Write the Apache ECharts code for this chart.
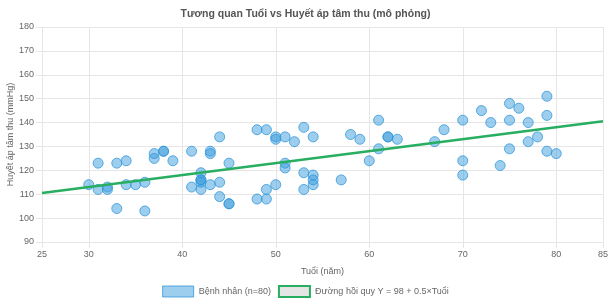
<!DOCTYPE html>
<html>
<head>
<meta charset="utf-8">
<title>Tương quan Tuổi vs Huyết áp tâm thu</title>
<script src="https://cdn.jsdelivr.net/npm/echarts@6/dist/echarts.min.js"></script>
<style>
    html, body { margin: 0; padding: 0; background: #fff; }
    #scatterChart { width: 611px; height: 305px; }
</style>
</head>
<body>
<div id="scatterChart"></div>
<script>
// Tuổi của bệnh nhân (năm)
var ages = [
    30, 31, 31, 32, 32, 33, 33, 34, 34, 35,
    36, 36, 37, 37, 38, 38, 39, 41, 41, 42,
    42, 42, 42, 42, 43, 43, 43, 44, 44, 44,
    45, 45, 45, 48, 48, 49, 49, 49, 50, 50,
    50, 51, 51, 51, 52, 53, 53, 53, 54, 54,
    54, 54, 57, 58, 59, 60, 61, 61, 62, 62,
    63, 67, 68, 70, 70, 70, 72, 73, 74, 75,
    75, 75, 76, 77, 77, 78, 79, 79, 79, 80
];
// Huyết áp tâm thu (mmHg)
var pressures = [
    114, 123, 112, 113, 112, 123, 104, 124, 114, 114,
    115, 103, 127, 125, 128, 128, 124, 128, 113, 119,
    116, 116, 115, 112, 128, 127, 114, 134, 115, 109,
    123, 106, 106, 137, 108, 137, 108, 112, 134, 133,
    114, 134, 123, 121, 132, 138, 119, 112, 134, 118,
    116, 114, 116, 135, 133, 124, 141, 129, 134, 134,
    133, 132, 137, 141, 124, 118, 145, 140, 122, 148,
    141, 129, 146, 140, 132, 134, 151, 143, 128, 127
];
// Đường hồi quy Y = 98 + 0.5×Tuổi (hai đầu mút)
var lineAges = [25, 85];
var linePressures = [110.5, 140.5];

// Nhãn trục X (kiểu Chart.js: có cả min và max)
var xTicks = [25, 30, 40, 50, 60, 70, 80, 85];

var scatterName = 'Bệnh nhân (n=80)';
var lineName = 'Đường hồi quy Y = 98 + 0.5×Tuổi';

var myScatterChart = function () {
    var points = [];
    ages.forEach(function (age, i) {
        points.push([age, pressures[i]]);
    });
    var linePoints = [];
    lineAges.forEach(function (age, i) {
        linePoints.push([age, linePressures[i]]);
    });

    var font = '"Liberation Sans", Arial, sans-serif';
    var gridColor = '#e6e6e6';

    var chart = echarts.init(document.getElementById('scatterChart'));
    var option = {
        animation: false,
        textStyle: { fontFamily: font },
        title: {
            text: 'Tương quan Tuổi vs Huyết áp tâm thu (mô phỏng)',
            left: 'center',
            top: 4,
            textStyle: { fontSize: 10.5, fontWeight: 'bold', color: '#555', fontFamily: font }
        },
        legend: {
            bottom: 2,
            left: 'center',
            itemWidth: 31,
            itemHeight: 11,
            itemGap: 7,
            textStyle: { fontSize: 9, color: '#666', fontFamily: font },
            data: [
                {
                    name: scatterName,
                    icon: 'rect',
                    itemStyle: { color: 'rgba(52,152,219,0.6)', borderColor: '#3498db', borderWidth: 1 }
                },
                {
                    name: lineName,
                    icon: 'rect',
                    itemStyle: { color: '#e5e5e5', borderColor: '#27ae60', borderWidth: 2 }
                }
            ]
        },
        grid: { left: 42, right: 8, top: 27, bottom: 63, outerBoundsMode: 'none' },
        xAxis: {
            type: 'value',
            min: 25,
            max: 85,
            name: 'Tuổi (năm)',
            nameLocation: 'middle',
            nameGap: 25,
            nameMoveOverlap: false,
            nameTextStyle: { fontSize: 9, color: '#666' },
            axisLine: { show: true, lineStyle: { color: gridColor } },
            axisTick: { show: true, length: 6, customValues: xTicks, lineStyle: { color: gridColor } },
            axisLabel: { fontSize: 9, color: '#666', margin: 8, customValues: xTicks },
            splitLine: { show: true, lineStyle: { color: gridColor } }
        },
        yAxis: {
            type: 'value',
            min: 90,
            max: 180,
            interval: 10,
            name: 'Huyết áp tâm thu (mmHg)',
            nameLocation: 'middle',
            nameGap: 27,
            nameMoveOverlap: false,
            nameTextStyle: { fontSize: 9, color: '#666' },
            axisLine: { show: true, lineStyle: { color: gridColor } },
            axisTick: { show: true, length: 6, lineStyle: { color: gridColor } },
            axisLabel: { fontSize: 9, color: '#666', margin: 8 },
            splitLine: { show: true, lineStyle: { color: gridColor } }
        },
        series: [
            {
                name: scatterName,
                type: 'scatter',
                symbolSize: 10,
                itemStyle: { color: 'rgba(52,152,219,0.6)', borderColor: '#3498db', borderWidth: 1 },
                data: points
            },
            {
                name: lineName,
                type: 'line',
                showSymbol: false,
                symbol: 'none',
                lineStyle: { color: '#27ae60', width: 2.5 },
                itemStyle: { color: '#27ae60' },
                data: linePoints
            }
        ]
    };
    chart.setOption(option);
};

myScatterChart();
</script>
</body>
</html>
